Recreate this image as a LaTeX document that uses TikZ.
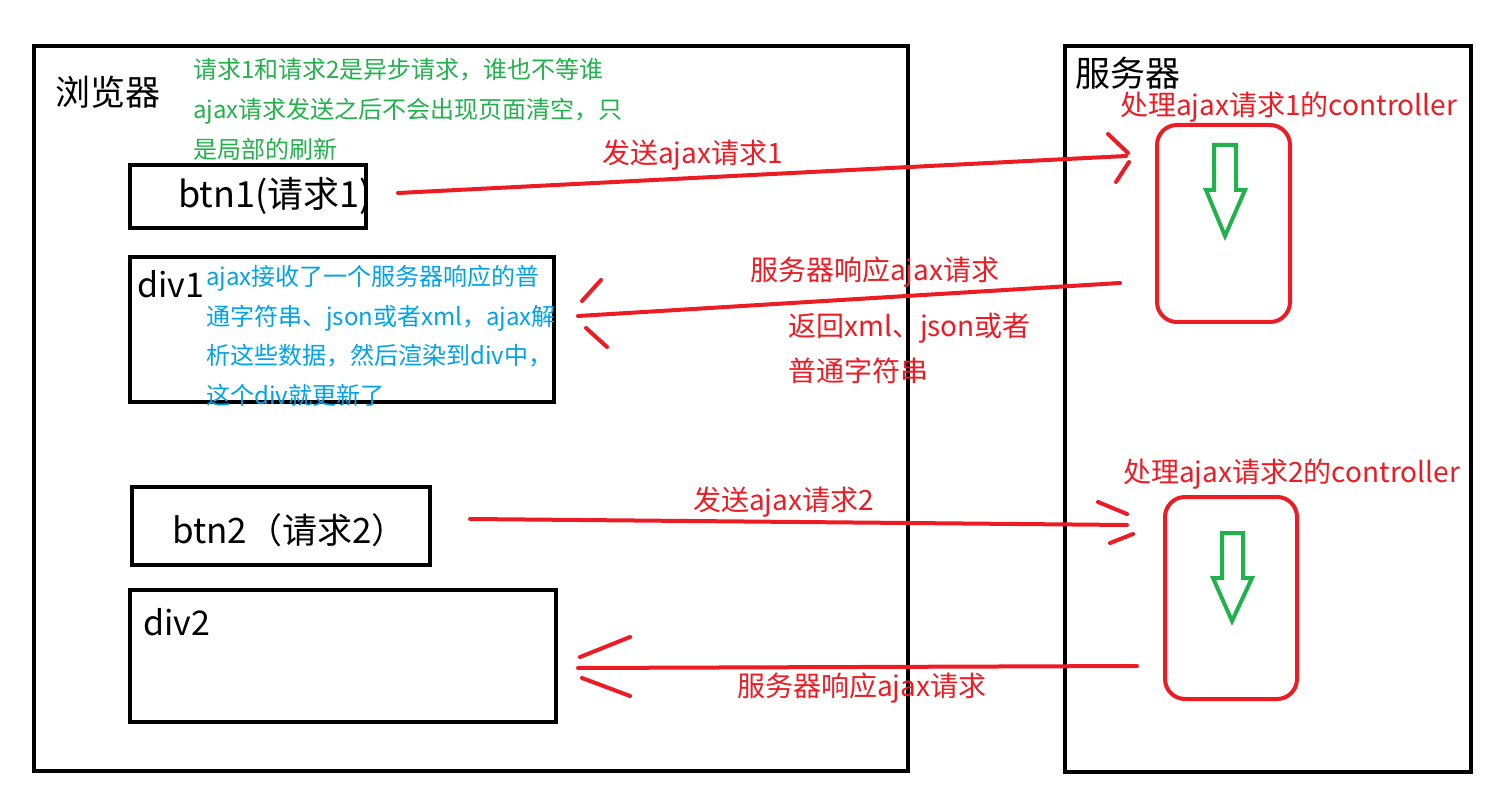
\documentclass[tikz,border=0pt]{standalone}
\usepackage{fontspec}
\setmainfont{Noto Sans CJK SC}
\definecolor{pred}{HTML}{ED1C24}
\definecolor{pgreen}{HTML}{22B14C}
\definecolor{pblue}{HTML}{00A2E8}
\begin{document}
\begin{tikzpicture}[x=1pt,y=-1pt,
  box/.style={draw=black,line width=4pt,anchor=north west,inner sep=0pt,outer sep=0pt},
  ctrl/.style={draw=pred,line width=4pt,rounded corners=20pt,anchor=north west,inner sep=0pt,outer sep=0pt},
  redline/.style={draw=pred,line width=4pt,line cap=round},
  greenarrow/.style={draw=pgreen,line width=4pt,line join=miter},
  big/.style={anchor=west,inner sep=0pt,font=\fontsize{34}{40}\selectfont},
  rlbl/.style={anchor=west,inner sep=0pt,text=pred,font=\fontsize{28}{45}\selectfont},
  para/.style={anchor=north west,inner sep=0pt,align=left}]
\useasboundingbox (0,0) rectangle (1502,802);
% boxes
\node[box,minimum width=874pt,minimum height=725pt] (browser) at (34,46) {};
\node[box,minimum width=406pt,minimum height=726pt] (server) at (1065,46) {};
\node[box,minimum width=236pt,minimum height=63pt] (btn1) at (130,165) {};
\node[box,minimum width=424pt,minimum height=145pt] (div1) at (130,257) {};
\node[box,minimum width=298pt,minimum height=78pt] (btn2) at (132,487) {};
\node[box,minimum width=426pt,minimum height=132pt] (div2) at (130,590) {};
\node[ctrl,minimum width=133pt,minimum height=197pt] (ctrl1) at (1157,125) {};
\node[ctrl,minimum width=132pt,minimum height=202pt] (ctrl2) at (1165,497) {};
% titles and labels
\node[big,font=\fontsize{35}{40}\selectfont] (tbrowser) at (55,92) {浏览器};
\node[big,font=\fontsize{35}{40}\selectfont] (tserver) at (1075,73) {服务器};
\node[big,font=\fontsize{36}{40}\selectfont] (tbtn1) at (178,196) {btn1(请求1)};
\node[big] (tdiv1) at (137,284) {div1};
\node[big,font=\fontsize{35}{40}\selectfont] (tbtn2) at (172,530) {btn2（请求2）};
\node[big] (tdiv2) at (143,622) {div2};
\node[para,text=pgreen,font=\fontsize{24}{40}\selectfont] (note1) at (193,58)
  {请求1和请求2是异步请求，谁也不等谁\\ajax请求发送之后不会出现页面清空，只\\是局部的刷新};
\node[para,text=pblue,font=\fontsize{24}{39.5}\selectfont] (note2) at (206,265)
  {ajax接收了一个服务器响应的普\\通字符串、json或者xml，ajax解\\析这些数据，然后渲染到div中，\\这个div就更新了};
\node[rlbl] (lc1) at (1120,107) {处理ajax请求1的controller};
\node[rlbl] (lc2) at (1123,474) {处理ajax请求2的controller};
\node[rlbl] (ls1) at (602,155) {发送ajax请求1};
\node[rlbl] (lr1) at (750,272) {服务器响应ajax请求};
\node[para,text=pred,font=\fontsize{28}{45}\selectfont] (lr1b) at (788,313) {返回xml、json或者\\普通字符串};
\node[rlbl] (ls2) at (693,502) {发送ajax请求2};
\node[rlbl] (lr2) at (737,688) {服务器响应ajax请求};
% connector endpoints
\coordinate (s1) at (398,193); \coordinate (e1) at (1126,156);
\coordinate (s2) at (1120,283); \coordinate (e2) at (578,316);
\coordinate (s3) at (470,519); \coordinate (e3) at (1127,525);
\coordinate (s4) at (1137,666); \coordinate (e4) at (578,668);
% arrows
\draw[redline] (s1) -- (e1);
\draw[redline] (1108,134) -- (1128,153);
\draw[redline] (1129,162) -- (1116,182);
\draw[redline] (s2) -- (e2);
\draw[redline] (601,280) -- (582,301);
\draw[redline] (586,328) -- (607,347);
\draw[redline] (s3) -- (e3);
\draw[redline] (1098,502) -- (1127,514);
\draw[redline] (1110,543) -- (1133,534);
\draw[redline] (s4) -- (e4);
\draw[redline] (580,657) -- (630,637);
\draw[redline] (582,678) -- (630,696);
% green arrows
\draw[greenarrow] (1214,145) -- (1236,145) -- (1236,190) -- (1245,190) -- (1225,236) -- (1206,190) -- (1214,190) -- cycle;
\draw[greenarrow] (1222,533) -- (1243,533) -- (1243,578) -- (1252,578) -- (1232,621) -- (1213,578) -- (1222,578) -- cycle;
\end{tikzpicture}
\end{document}
